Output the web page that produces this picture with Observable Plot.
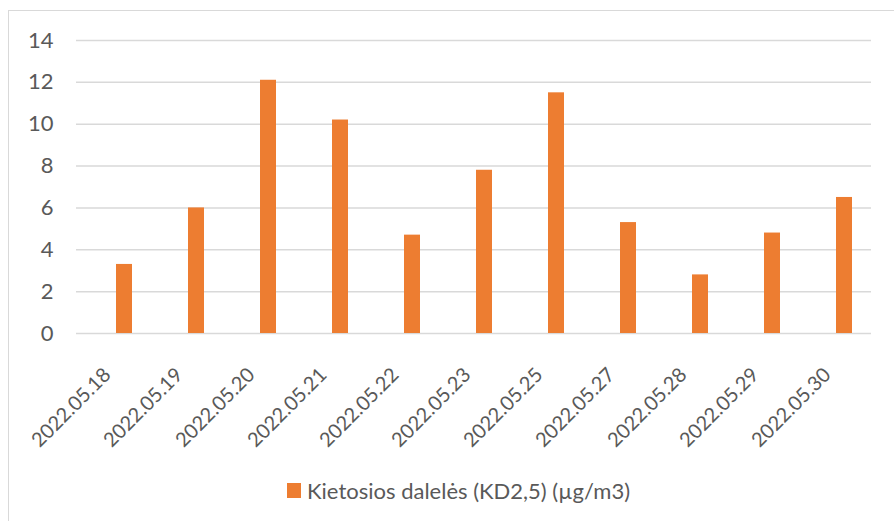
<!DOCTYPE html>
<html>
<head>
<meta charset="utf-8">
<script src="https://cdn.jsdelivr.net/npm/d3@7"></script>
<script src="https://cdn.jsdelivr.net/npm/@observablehq/plot@0.6"></script>
<style>
  html, body { margin: 0; padding: 0; background: #fff; }
  #wrap { position: relative; width: 894px; height: 521px; overflow: hidden; font-family: Lato, "Open Sans", sans-serif; }
  #frame { position: absolute; left: 8px; top: 10px; width: 900px; height: 520px; border-left: 1.5px solid #d9d9d9; border-top: 1.5px solid #d9d9d9; box-sizing: border-box; }
  #chart { position: absolute; left: 0; top: 0; }
  #legend { position: absolute; left: 287px; top: 477px; display: flex; align-items: center; color: #595959; font-size: 22px; white-space: nowrap; }
  #legend .sw { width: 14px; height: 15px; background: #ED7D31; margin-right: 6px; }
</style>
</head>
<body>
<div id="wrap">
  <div id="frame"></div>
  <div id="chart"></div>
  <div id="legend"><span class="sw"></span><span>Kietosios dalelės (KD2,5) (µg/m3)</span></div>
</div>
<script>
const dates = ["2022.05.18","2022.05.19","2022.05.20","2022.05.21","2022.05.22","2022.05.23","2022.05.25","2022.05.27","2022.05.28","2022.05.29","2022.05.30"];
const values = [3.3, 6.0, 12.1, 10.2, 4.7, 7.8, 11.5, 5.3, 2.8, 4.8, 6.5];
const yTicks = [0, 2, 4, 6, 8, 10, 12, 14];
const seriesName = "Kietosios dalelės (KD2,5) (µg/m3)";

const data = dates.map((d, i) => ({date: d, value: values[i]}));

const plot = Plot.plot({
  width: 894,
  height: 455,
  marginLeft: 76,
  marginRight: 23,
  marginTop: 40,
  marginBottom: 122,
  style: {fontFamily: "Lato, 'Open Sans', sans-serif", fontSize: "22px", color: "#595959", background: "transparent", overflow: "visible"},
  x: {domain: dates, paddingInner: 0.78, paddingOuter: 0.39, label: null},
  y: {domain: [0, 14], ticks: yTicks, label: null},
  marks: [
    Plot.ruleY(yTicks, {stroke: "#d9d9d9", strokeWidth: 1.5}),
    Plot.barY(data, {x: "date", y: "value", fill: "#ED7D31", dx: 10}),
    Plot.axisY({ticks: yTicks, tickSize: 0, tickPadding: 23, fontSize: 22, fill: "#595959", label: null}),
    Plot.axisX({tickSize: 0, tickPadding: 38, tickRotate: -45, fontSize: 20, fill: "#595959", label: null, dx: -7})
  ]
});
document.getElementById("chart").appendChild(plot);
</script>
</body>
</html>
